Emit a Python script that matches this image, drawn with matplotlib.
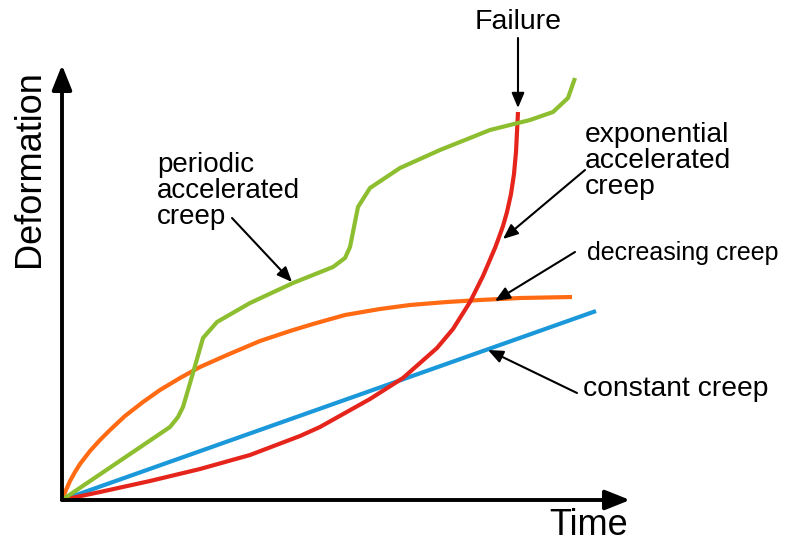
import matplotlib
matplotlib.use("Agg")
import matplotlib.pyplot as plt

plt.rcParams['font.family'] = ['Liberation Sans', 'DejaVu Sans']

# Creep curves: time vs. deformation (arbitrary units)
constant_t = [0.0, 10.68]
constant_d = [0.0, 3.78]

exponential_t = [0.0, 0.76, 1.76, 2.76, 3.76, 4.76, 5.16, 6.16, 6.82, 7.50, 7.82,
                 8.16, 8.42, 8.66, 8.72, 8.82, 8.90, 8.98, 9.04, 9.08, 9.12]
exponential_d = [0.0, 0.16, 0.38, 0.62, 0.90, 1.28, 1.46, 2.02, 2.44, 3.04, 3.42,
                 3.96, 4.48, 5.04, 5.20, 5.48, 5.76, 6.12, 6.52, 6.96, 7.76]

decreasing_t = [0.0, 0.08, 0.16, 0.26, 0.36, 0.56, 0.76, 0.96, 1.26, 1.62, 1.96,
                2.36, 2.76, 3.30, 3.96, 4.56, 5.02, 5.66, 6.36, 6.96, 7.70, 8.36,
                9.16, 10.20]
decreasing_d = [0.0, 0.20, 0.38, 0.56, 0.72, 0.98, 1.20, 1.40, 1.68, 1.96, 2.20,
                2.44, 2.66, 2.90, 3.18, 3.38, 3.52, 3.70, 3.82, 3.90, 3.96, 4.00,
                4.04, 4.06]

periodic_t = [0.0, 2.16, 2.32, 2.42, 2.62, 2.82, 3.10, 3.76, 4.62, 5.42,
              5.66, 5.76, 5.92, 6.16, 6.76, 7.56, 8.56, 9.36, 9.82, 10.12, 10.26]
periodic_d = [0.0, 1.46, 1.66, 1.86, 2.54, 3.24, 3.56, 3.94, 4.34, 4.66,
              4.84, 5.06, 5.86, 6.24, 6.64, 7.00, 7.40, 7.60, 7.76, 8.04, 8.44]

x_label = "Time"
y_label = "Deformation"

# label text, font size, text anchor, arrow tail, arrow head
labels = {
    "periodic": ("periodic\naccelerated\ncreep", 20.0, (1.90, 6.96), (3.40, 5.64), (4.60, 4.36)),
    "exponential": ("exponential\naccelerated\ncreep", 20.3, (10.46, 7.56), (10.46, 6.60), (8.82, 5.22)),
    "decreasing": ("decreasing creep", 18.0, (10.50, 4.94), (10.26, 4.96), (8.66, 3.98)),
    "constant": ("constant creep", 20.3, (10.42, 2.22), (10.30, 2.14), (8.52, 3.00)),
}
failure_text = "Failure"
failure_pos = (9.12, 9.56)
failure_tail = (9.12, 9.24)
failure_head = (9.12, 7.84)

GREEN = '#8DBE2F'
ORANGE = '#FF6A12'
RED = '#E5251C'
BLUE = '#1B98DA'

fig = plt.figure(figsize=(8.06, 5.43), dpi=100)
ax = fig.add_axes([0, 0, 1, 1])
s = 50.0  # pixels per unit
ax.set_xlim(-62 / s, (806 - 62) / s)
ax.set_ylim(-(543 - 500) / s, 500 / s)
ax.axis('off')

lw = 3.0
line_kw = dict(lw=lw, solid_capstyle='butt', solid_joinstyle='round')
ax.plot(decreasing_t, decreasing_d, color=ORANGE, zorder=3, **line_kw)
ax.plot(constant_t, constant_d, color=BLUE, zorder=3, **line_kw)
ax.plot(exponential_t, exponential_d, color=RED, zorder=4, **line_kw)
ax.plot(periodic_t, periodic_d, color=GREEN, zorder=5, **line_kw)

# axes with arrow heads
axis_style = dict(arrowstyle='-|>,head_length=1.5,head_width=0.6', lw=2.8,
                  color='black', shrinkA=0, shrinkB=0, mutation_scale=10)
ax.annotate('', xy=(11.36, 0), xytext=(0, 0), arrowprops=axis_style, zorder=6)
ax.annotate('', xy=(0, 8.70), xytext=(0, 0), arrowprops=axis_style, zorder=6)

ax.text(11.32, -0.70, x_label, fontsize=26, ha='right', va='baseline')
ax.text(-0.64, 6.62, y_label, fontsize=26, rotation=90, ha='center', va='center')

arrow_style = dict(arrowstyle='-|>,head_length=0.9,head_width=0.38', lw=1.5,
                   color='black', shrinkA=0, shrinkB=0, mutation_scale=10)
for text, fs, pos, tail, head in labels.values():
    va = 'top' if '\n' in text else 'center'
    ax.text(pos[0], pos[1], text, fontsize=fs, ha='left', va=va, linespacing=1.0)
    ax.annotate('', xy=head, xytext=tail, arrowprops=arrow_style, zorder=7)

ax.text(failure_pos[0], failure_pos[1], failure_text, fontsize=20.5, ha='center', va='center')
ax.annotate('', xy=failure_head, xytext=failure_tail, arrowprops=arrow_style, zorder=7)

fig.savefig('out.png', dpi=100)
